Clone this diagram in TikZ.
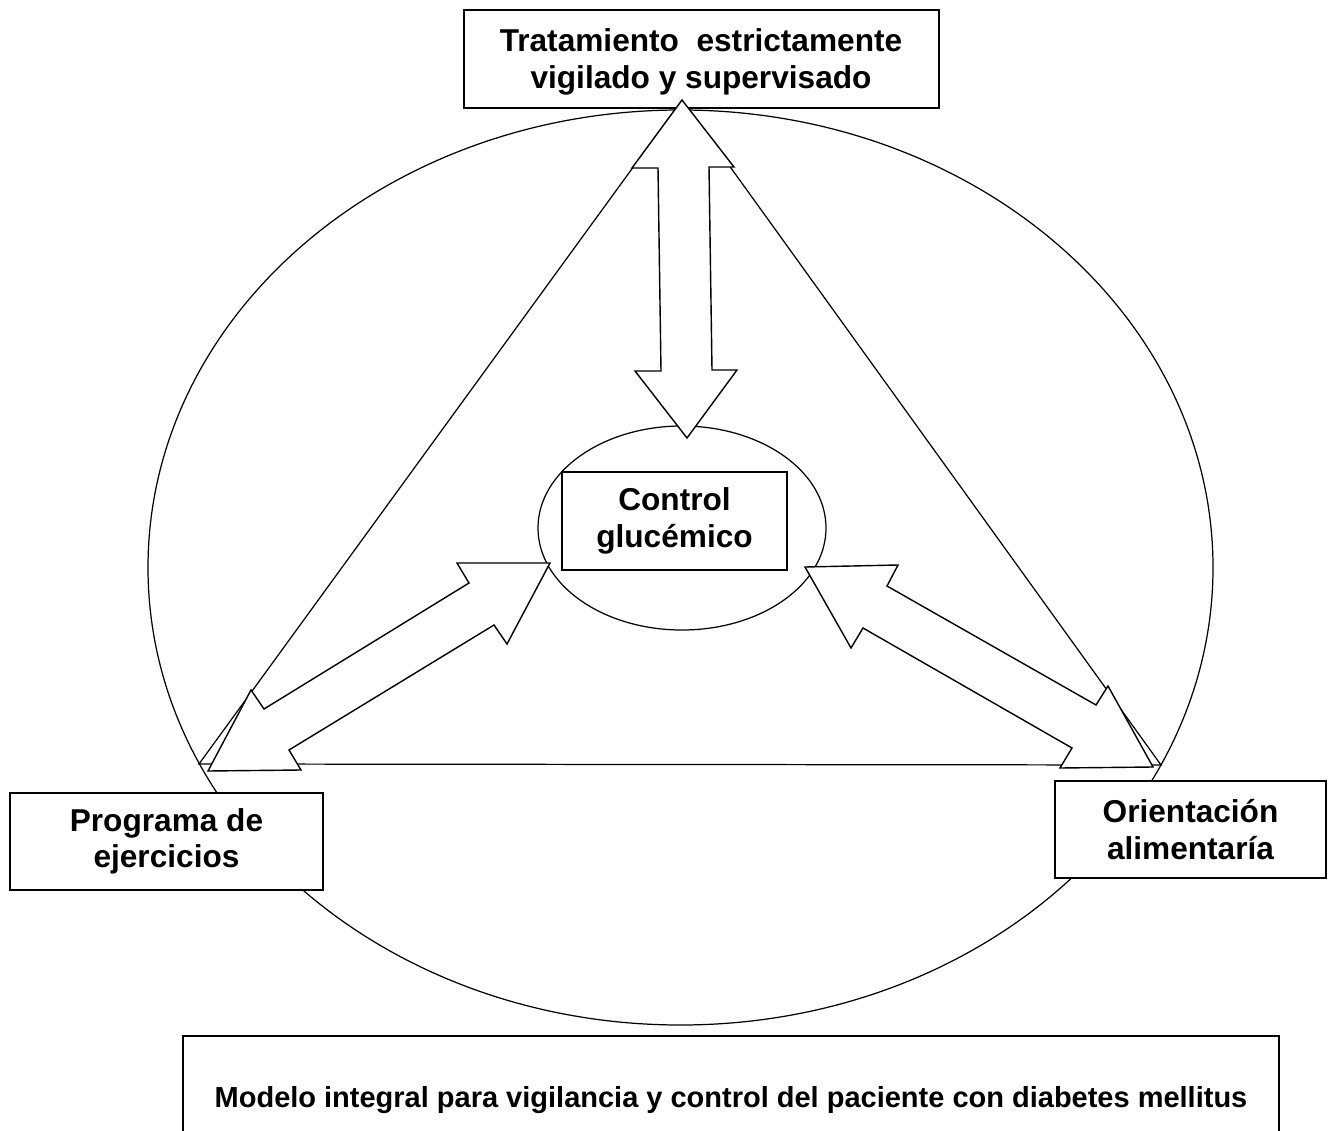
\documentclass[tikz,border=0pt]{standalone}
\usepackage{fontspec}
\setmainfont{Liberation Sans}
\usetikzlibrary{positioning}
\tikzset{
  labelbox/.style={
    rectangle, draw=black, fill=white, line width=0.8pt,
    font=\fontsize{18}{20.7}\selectfont\bfseries, align=center,
    inner sep=0pt
  },
  labeltext/.style={
    font=\fontsize{18}{20.7}\selectfont\bfseries, align=center,
    inner sep=0pt
  },
  titlebox/.style={
    rectangle, draw=black, fill=white, line width=0.8pt,
    font=\fontsize{16.5}{19}\selectfont\bfseries, align=center,
    inner sep=0pt
  },
  outline/.style={draw=black, line width=0.7pt},
  blockarrow/.style={draw=black, fill=white, line width=0.8pt, line join=miter},
}

\begin{document}
\begin{tikzpicture}[x=0.02cm, y=-0.02cm]
  \useasboundingbox (0,0) rectangle (1328,1131);

  % Outer ellipse and triangle
  \draw[outline] (680.5,567.5) ellipse [x radius=532.5, y radius=457.5];
  \draw[outline] (682,100) -- (199,764) -- (1161,765) -- cycle;

  % Corner boxes
  \node[labelbox, minimum width=9.5cm, minimum height=1.96cm] (trat) at (701.5,59) {};
  \node[labeltext] (tratlbl) at (701,62)
    {Tratamiento\ \ estrictamente\\vigilado y supervisado};
  \node[labelbox, minimum width=6.26cm, minimum height=1.94cm] (prog) at (166.5,841.5)
    {Programa de\\ejercicios};
  \node[labelbox, minimum width=5.42cm, minimum height=1.94cm] (orie) at (1190.5,829.5)
    {Orientación\\alimentaría};

  % Centre
  \draw[outline, fill=white] (682,528) ellipse [x radius=144, y radius=102];
  \node[labelbox, minimum width=4.5cm, minimum height=1.96cm] (ctrl) at (674.5,521)
    {Control\\glucémico};

  % Block arrows
  \draw[blockarrow] (682,100) -- (734,167) -- (709,167) -- (712,370) -- (737,370)
    -- (687,438) -- (635,371) -- (661,371) -- (658,168) -- (632,168) -- cycle;
  \draw[blockarrow] (208,771) -- (251,690) -- (264,709) -- (469,583) -- (457,563)
    -- (550,563) -- (507,644) -- (494,625) -- (289,750) -- (301,770) -- cycle;
  \draw[blockarrow] (805,567) -- (898,565) -- (887,586) -- (1096,705) -- (1108,686)
    -- (1153,767) -- (1060,768) -- (1072,748) -- (863,628) -- (851,648) -- cycle;

  % Caption box
  \node[titlebox, minimum width=21.92cm, minimum height=2.56cm] (modelo) at (731,1100)
    {Modelo integral para vigilancia y control del paciente con diabetes mellitus};
\end{tikzpicture}
\end{document}
